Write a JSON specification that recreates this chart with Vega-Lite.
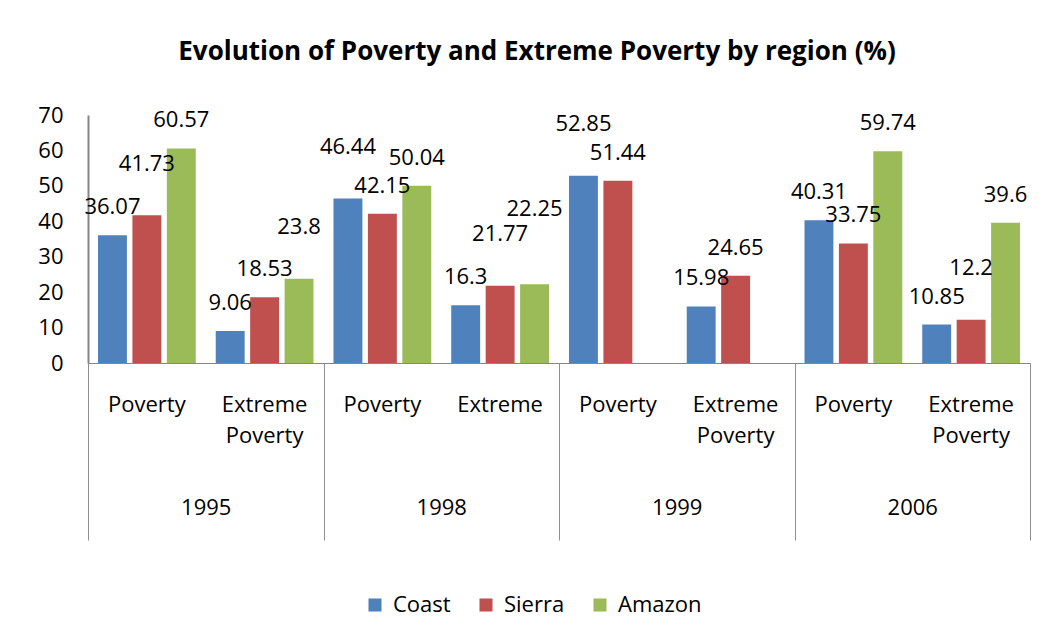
{
  "$schema": "https://vega.github.io/schema/vega-lite/v6.json",
  "width": 942,
  "height": 248,
  "autosize": {"type": "none"},
  "padding": {"left": 88, "top": 115, "right": 20, "bottom": 272},
  "background": "white",
  "config": {
    "font": "Open Sans",
    "view": {"stroke": null},
    "text": {"font": "Open Sans"}
  },
  "title": {
    "text": "Evolution of  Poverty and Extreme Poverty by region (%)",
    "font": "Open Sans",
    "fontSize": 26,
    "fontWeight": "bold",
    "color": "black",
    "anchor": "middle",
    "dx": -22,
    "baseline": "alphabetic",
    "offset": 18
  },
  "data": {
    "values": [
      {"year": "1995", "cat": "1995 Poverty", "region": "Coast", "value": 36.07},
      {"year": "1995", "cat": "1995 Poverty", "region": "Sierra", "value": 41.73},
      {"year": "1995", "cat": "1995 Poverty", "region": "Amazon", "value": 60.57},
      {"year": "1995", "cat": "1995 Extreme Poverty", "region": "Coast", "value": 9.06},
      {"year": "1995", "cat": "1995 Extreme Poverty", "region": "Sierra", "value": 18.53},
      {"year": "1995", "cat": "1995 Extreme Poverty", "region": "Amazon", "value": 23.8},
      {"year": "1998", "cat": "1998 Poverty", "region": "Coast", "value": 46.44},
      {"year": "1998", "cat": "1998 Poverty", "region": "Sierra", "value": 42.15},
      {"year": "1998", "cat": "1998 Poverty", "region": "Amazon", "value": 50.04},
      {"year": "1998", "cat": "1998 Extreme", "region": "Coast", "value": 16.3},
      {"year": "1998", "cat": "1998 Extreme", "region": "Sierra", "value": 21.77},
      {"year": "1998", "cat": "1998 Extreme", "region": "Amazon", "value": 22.25},
      {"year": "1999", "cat": "1999 Poverty", "region": "Coast", "value": 52.85},
      {"year": "1999", "cat": "1999 Poverty", "region": "Sierra", "value": 51.44},
      {"year": "1999", "cat": "1999 Extreme Poverty", "region": "Coast", "value": 15.98},
      {"year": "1999", "cat": "1999 Extreme Poverty", "region": "Sierra", "value": 24.65},
      {"year": "2006", "cat": "2006 Poverty", "region": "Coast", "value": 40.31},
      {"year": "2006", "cat": "2006 Poverty", "region": "Sierra", "value": 33.75},
      {"year": "2006", "cat": "2006 Poverty", "region": "Amazon", "value": 59.74},
      {"year": "2006", "cat": "2006 Extreme Poverty", "region": "Coast", "value": 10.85},
      {"year": "2006", "cat": "2006 Extreme Poverty", "region": "Sierra", "value": 12.2},
      {"year": "2006", "cat": "2006 Extreme Poverty", "region": "Amazon", "value": 39.6}
    ]
  },
  "layer": [
    {
      "encoding": {
        "x": {
          "field": "cat", "type": "nominal", "sort": null,
          "scale": {"paddingInner": 0, "paddingOuter": 0},
          "axis": {
            "orient": "bottom", "title": null, "ticks": false,
            "domainColor": "#868686", "domainWidth": 1,
            "labelExpr": "split(slice(datum.value, 5), ' ')",
            "labelAngle": 0, "labelPadding": 31, "labelLineHeight": 31,
            "labelFontSize": 22, "labelFont": "Open Sans", "labelColor": "black",
            "labelOverlap": false, "labelLimit": 0
          }
        },
        "xOffset": {
          "field": "region", "type": "nominal",
          "scale": {"domain": ["Coast", "Sierra", "Amazon"], "paddingInner": 0.16, "paddingOuter": 0.29}
        },
        "y": {
          "field": "value", "type": "quantitative",
          "scale": {"domain": [0, 70]},
          "axis": {
            "title": null, "values": [0, 10, 20, 30, 40, 50, 60, 70],
            "grid": false, "ticks": false, "domainColor": "#868686", "domainWidth": 2,
            "labelFontSize": 22, "labelFont": "Open Sans", "labelColor": "black",
            "labelPadding": 25, "labelOverlap": false, "labelBound": false, "labelFlush": false
          }
        }
      },
      "layer": [
        {
          "mark": {"type": "bar"},
          "encoding": {
            "color": {
              "field": "region", "type": "nominal",
              "scale": {"domain": ["Coast", "Sierra", "Amazon"], "range": ["#4F81BD", "#C0504D", "#9BBB59"]},
              "legend": {
                "title": null, "orient": "none", "direction": "horizontal",
                "legendX": 276, "legendY": 479,
                "symbolType": "square", "symbolSize": 170, "symbolStrokeWidth": 0,
                "labelFontSize": 22, "labelFont": "Open Sans", "labelColor": "black",
                "labelOffset": 7, "columnPadding": 24
              }
            }
          }
        },
        {
          "transform": [
            {"calculate": "indexof(['Coast','Sierra','Amazon'], datum.region)", "as": "ord"},
            {
              "window": [
                {"op": "lag", "field": "value", "param": 1, "as": "prev"},
                {"op": "lag", "field": "value", "param": 2, "as": "prev2"},
                {"op": "lead", "field": "value", "param": 1, "as": "next"}
              ],
              "groupby": ["cat"],
              "sort": [{"field": "ord"}]
            },
            {"calculate": "isValid(datum.prev) && abs(datum.value - datum.prev) < 6 && datum.value >= datum.prev ? 1 : 0", "as": "cph"},
            {"calculate": "isValid(datum.prev2) && abs(datum.prev - datum.prev2) < 6 && datum.prev >= datum.prev2 ? 1 : 0", "as": "cphPrev"},
            {"calculate": "isValid(datum.next) && abs(datum.value - datum.next) < 6 && datum.value > datum.next ? 1 : 0", "as": "chn"},
            {"calculate": "datum.value + 6.6 * (datum.cph ? 1 + datum.cphPrev : datum.chn)", "as": "labelY"}
          ],
          "mark": {"type": "text", "baseline": "alphabetic", "dy": -21, "fontSize": 22, "font": "Open Sans", "color": "black"},
          "encoding": {
            "y": {"field": "labelY", "type": "quantitative"},
            "text": {"field": "value", "type": "nominal"}
          }
        }
      ]
    },
    {
      "mark": {"type": "rule", "opacity": 0},
      "encoding": {
        "x": {
          "field": "year", "type": "nominal",
          "scale": {"type": "band", "paddingInner": 0, "paddingOuter": 0},
          "axis": {
            "orient": "bottom", "title": null, "domain": false,
            "tickBand": "extent", "tickSize": 177, "tickColor": "#8f8f8f", "tickWidth": 1,
            "labelAngle": 0, "labelPadding": -43,
            "labelFontSize": 22, "labelFont": "Open Sans", "labelColor": "black",
            "labelOverlap": false
          }
        }
      }
    }
  ],
  "resolve": {"scale": {"x": "independent"}, "axis": {"x": "independent"}}
}
